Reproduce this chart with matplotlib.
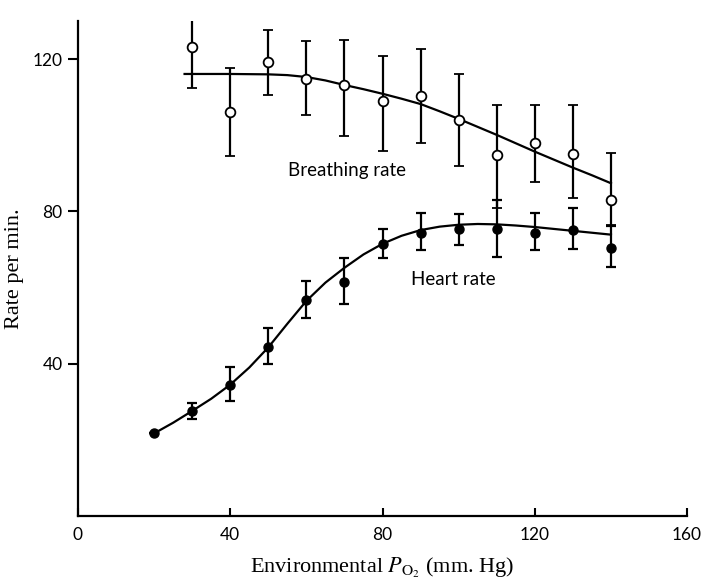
import numpy as np
import matplotlib
matplotlib.use("Agg")
import matplotlib.pyplot as plt

# environmental PO2 (mm Hg)
br_x = [30, 40, 50, 60, 70, 80, 90, 100, 110, 120, 130, 140]
br_y = [123.1, 106.1, 119.2, 114.8, 113.2, 109.0, 110.3, 104.1, 94.9, 98.0, 95.2, 83.1]
br_hi = [132.8, 117.6, 127.6, 124.7, 125.0, 120.8, 122.6, 116.1, 108.0, 108.0, 108.0, 95.4]
br_lo = [112.4, 94.6, 110.6, 105.4, 99.9, 95.9, 98.0, 91.8, 80.8, 87.6, 83.4, 76.5]

hr_x = [20, 30, 40, 50, 60, 70, 80, 90, 100, 110, 120, 130, 140]
hr_y = [21.7, 27.7, 34.5, 44.3, 56.7, 61.4, 71.4, 74.3, 75.3, 75.5, 74.3, 75.0, 70.3]
hr_hi = [21.7, 29.8, 39.2, 49.4, 61.7, 67.7, 75.5, 79.5, 79.2, 83.1, 79.5, 80.8, 76.3]
hr_lo = [21.7, 25.6, 30.1, 40.0, 52.0, 55.7, 67.7, 69.8, 71.1, 68.0, 69.8, 70.0, 65.4]

# fitted curves as drawn
br_fit_x = [28, 30, 40, 50, 55, 60, 65, 70, 75, 80, 85, 90, 95, 100, 105, 110, 115, 120, 125, 130, 135, 140]
br_fit_y = [116.1, 116.1, 116.1, 116.0, 115.8, 115.3, 114.4, 113.2, 112.1, 110.9, 109.6, 108.2, 106.3,
            104.3, 102.2, 100.1, 97.9, 95.7, 93.6, 91.5, 89.5, 87.4]
hr_fit_x = [20, 25, 30, 35, 40, 45, 50, 55, 60, 65, 70, 75, 80, 85, 90, 95, 100, 105, 110, 115, 120,
            125, 130, 135, 140]
hr_fit_y = [21.7, 24.5, 27.6, 30.8, 34.5, 39.0, 44.3, 50.5, 56.5, 61.3, 65.2, 68.7, 71.5, 73.6, 75.1,
            76.0, 76.5, 76.7, 76.6, 76.3, 75.9, 75.4, 74.9, 74.4, 73.9]

plt.rcParams['mathtext.fontset'] = 'stix'

fig = plt.figure(figsize=(7.05, 5.83), dpi=100)
ax = fig.add_axes([0.1106, 0.1149, 0.8640, 0.8490])

ax.plot(br_fit_x, br_fit_y, color='black', lw=1.6, zorder=2)
ax.plot(hr_fit_x, hr_fit_y, color='black', lw=1.6, zorder=2)

br_err = [np.array(br_y) - np.array(br_lo), np.array(br_hi) - np.array(br_y)]
hr_err = [np.array(hr_y) - np.array(hr_lo), np.array(hr_hi) - np.array(hr_y)]

ax.errorbar(br_x, br_y, yerr=br_err, fmt='o', mfc='white', mec='black', mew=1.3, ms=7,
            ecolor='black', elinewidth=1.6, capsize=3.5, capthick=1.6, zorder=3)
ax.errorbar(hr_x, hr_y, yerr=hr_err, fmt='o', mfc='black', mec='black', ms=6.5,
            ecolor='black', elinewidth=1.6, capsize=3.5, capthick=1.6, zorder=3)

ax.text(55.1, 90.7, 'Breathing rate', family='Lato', fontsize=13.5, va='center', ha='left')
ax.text(87.5, 62.0, 'Heart rate', family='Lato', fontsize=13.5, va='center', ha='left')

ax.set_xlim(0, 160)
ax.set_ylim(0, 130)
ax.set_xticks([0, 40, 80, 120, 160])
ax.set_yticks([40, 80, 120])
for s in ['top', 'right']:
    ax.spines[s].set_visible(False)
for s in ['left', 'bottom']:
    ax.spines[s].set_linewidth(1.6)
ax.tick_params(axis='y', direction='out', length=7, width=1.5, labelsize=12.5, pad=4)
ax.tick_params(axis='x', direction='in', length=6, width=1.5, labelsize=12.5, pad=8)
for lab in ax.get_xticklabels() + ax.get_yticklabels():
    lab.set_family('Lato')

ax.set_xlabel(r'Environmental $P_{\mathrm{O_2}}$ (mm. Hg)', family='Liberation Serif', fontsize=16, labelpad=9)
ax.set_ylabel('Rate per min.', family='Liberation Serif', fontsize=16, labelpad=6)

fig.savefig('out.png', dpi=100)
